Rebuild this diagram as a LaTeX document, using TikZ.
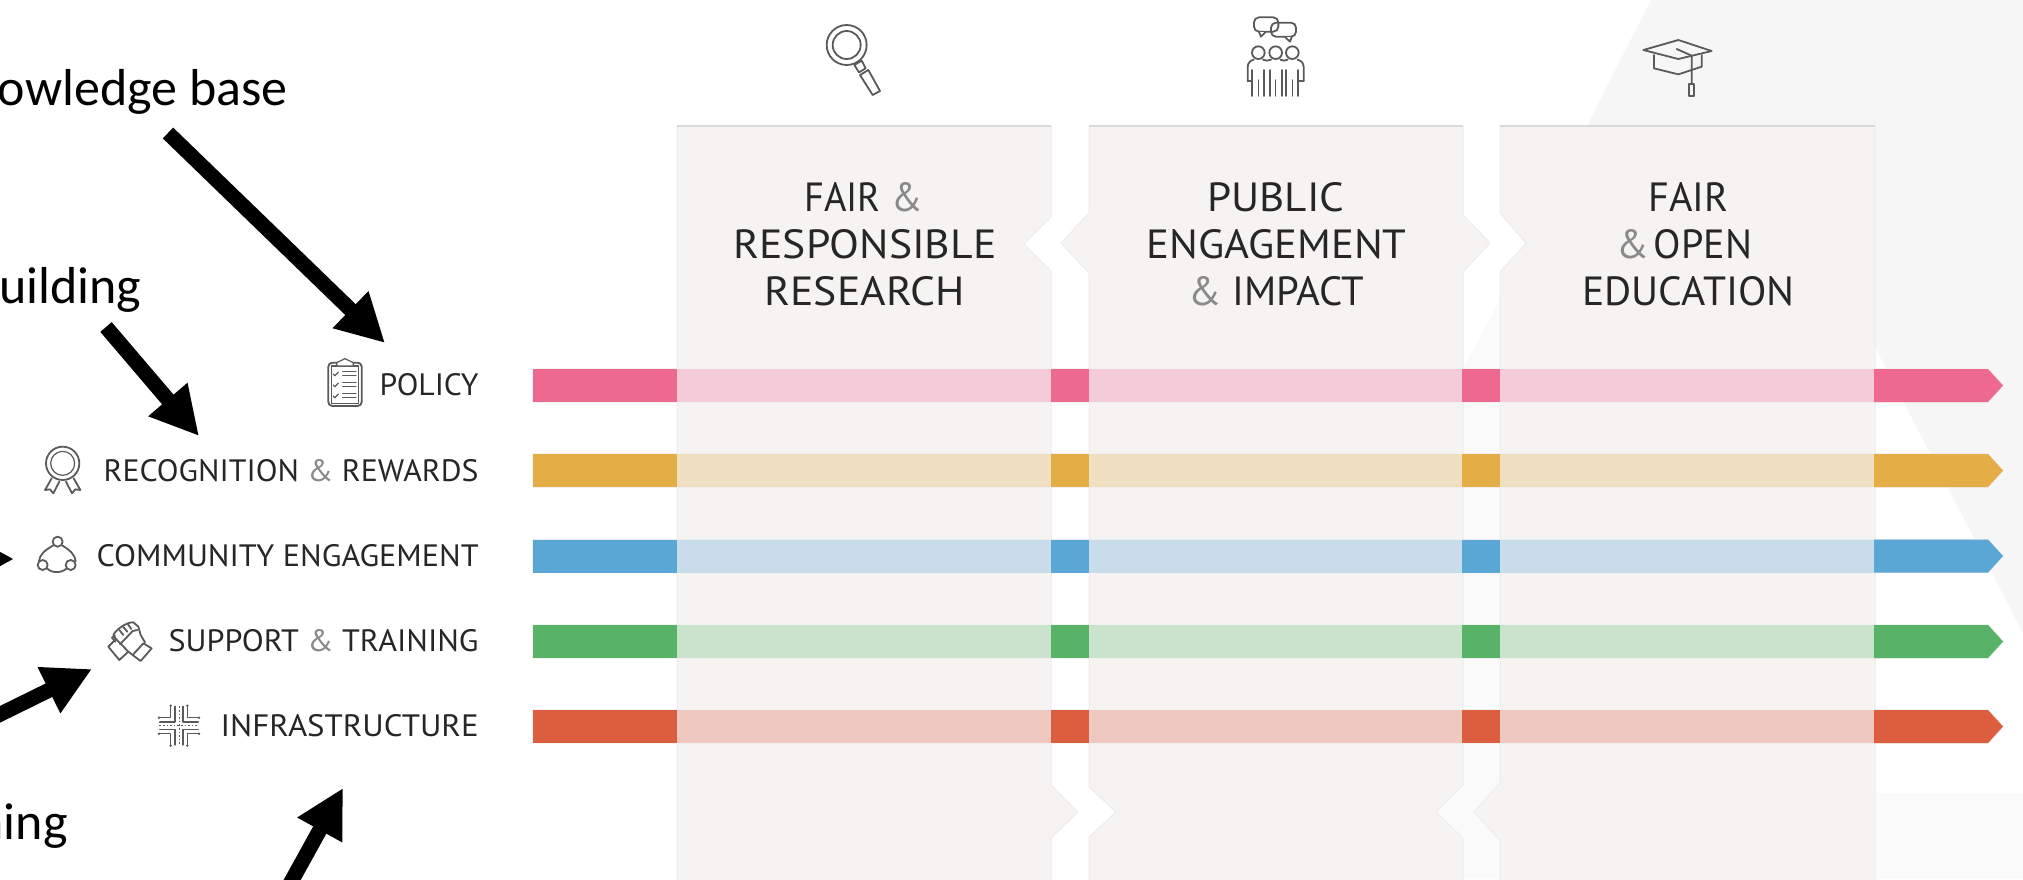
\documentclass[tikz,border=0pt]{standalone}
\usepackage{fontspec}
\usepackage{graphicx}
\setmainfont{Carlito}
\newfontfamily\din{PT Sans}
\usetikzlibrary{arrows.meta}
\newdimen\px \px=.5pt
\newcommand\fitt[3]{\resizebox{#1\px}{#2\px}{\din #3}}
\newcommand\amp{\textcolor{ampgrey}{\&}}
\definecolor{ampgrey}{HTML}{8A8A8A}
\definecolor{inkc}{HTML}{262626}
\definecolor{iconc}{HTML}{5A5A5A}
\definecolor{panelc}{HTML}{F5F4F3}
\definecolor{bgc}{HTML}{F6F6F6}
\definecolor{bgl}{HTML}{FAFAFA}
\definecolor{edgec}{HTML}{EDEDED}
\definecolor{topc}{HTML}{D9D9D9}
\definecolor{pinkD}{HTML}{EE6990}\definecolor{pinkL}{HTML}{F4CBD8}
\definecolor{orgD}{HTML}{E5AD45}\definecolor{orgL}{HTML}{F0DFC1}
\definecolor{bluD}{HTML}{5AA6D4}\definecolor{bluL}{HTML}{C8DDE9}
\definecolor{grnD}{HTML}{58B368}\definecolor{grnL}{HTML}{C9E3CD}
\definecolor{redD}{HTML}{DD5E3F}\definecolor{redL}{HTML}{EFC9C0}
\tikzset{
  panelbox/.style={fill=panelc,draw=edgec,line width=.5pt},
  toprule/.style={draw=topc,line width=.7pt},
  labeltxt/.style={anchor=base east,inner sep=0pt,text=inkc},
  headtxt/.style={anchor=base west,inner sep=0pt,text=inkc},
  annot/.style={anchor=base east,inner sep=0pt,text=black,font=\fontsize{26pt}{26pt}\selectfont},
  bigarrow/.style={line width=7.5pt,draw=black,-{Triangle[length=24pt,width=24pt]}},
  icon/.style={draw=iconc,line width=.9pt,line join=round,line cap=round},
  thinicon/.style={draw=iconc,line width=.6pt,line join=round,line cap=round},
  dotted icon/.style={draw=iconc,line width=.5pt,dash pattern=on .8pt off 1pt},
  dotfill/.style={fill=iconc,draw=none},
}
\begin{document}
\begin{tikzpicture}[x=.5pt,y=-.5pt]
\useasboundingbox (0,0) rectangle (2023,879);
\clip (0,0) rectangle (2023,879);
\fill[white] (0,0) rectangle (2023,879);
% background shapes
\fill[bgc] (1651,0) -- (2023,0) -- (2023,633) -- (1875,347) -- (1875,126) -- (1587,126) -- cycle;
\fill[bgl] (1875,793) rectangle (2023,879);
\fill[bgl] (1464,367) -- (1500,300) -- (1500,879) -- (1436,879) -- (1436,367) -- cycle;
% panels
\draw[panelbox] (677,126) -- (1051,126) -- (1051,217) -- (1024,244) -- (1051,271) -- (1051,785) -- (1078,812) -- (1051,838) -- (1051,885) -- (677,885) -- cycle;
\draw[panelbox] (1089,126) -- (1463,126) -- (1463,215) -- (1490,243) -- (1463,272) -- (1463,785) -- (1436,812) -- (1463,838) -- (1463,885) -- (1089,885) -- (1089,837) -- (1116,812) -- (1089,787) -- (1089,273) -- (1061,243) -- (1089,213) -- cycle;
\draw[panelbox] (1500,126) -- (1875,126) -- (1875,885) -- (1500,885) -- (1500,840) -- (1474,812) -- (1500,783) -- (1500,272) -- (1526,243) -- (1500,213) -- cycle;
\draw[toprule] (677,126) -- (1051,126);
\draw[toprule] (1089,126) -- (1463,126);
\draw[toprule] (1500,126) -- (1875,126);
% column headings
\node[headtxt] (h1a) at (804,211) {\fitt{118}{29}{FAIR \amp}};
\node[headtxt] (h1b) at (733,258) {\fitt{263}{29}{RESPONSIBLE}};
\node[headtxt] (h1c) at (764,305) {\fitt{200}{29}{RESEARCH}};
\node[headtxt] (h2a) at (1207,211) {\fitt{137}{29}{PUBLIC}};
\node[headtxt] (h2b) at (1146,258) {\fitt{260}{29}{ENGAGEMENT}};
\node[headtxt] (h2c) at (1188,305) {\fitt{176}{29}{\amp{} IMPACT}};
\node[headtxt] (h3a) at (1648,211) {\fitt{80}{29}{FAIR}};
\node[headtxt] (h3b) at (1616,258) {\fitt{136}{29}{\amp\hspace{.12em}OPEN}};
\node[headtxt] (h3c) at (1582,305) {\fitt{212}{29}{EDUCATION}};
% bars
\foreach \yy/\dk/\lt in {369/pinkD/pinkL,454/orgD/orgL,539.5/bluD/bluL,625/grnD/grnL,710/redD/redL}{
  \path[draw=edgec,line width=.6pt] (533,\yy) -- (1988,\yy) -- (2003,\yy+16.5) -- (1988,\yy+33) -- (533,\yy+33) -- cycle;
  \fill[\dk] (533,\yy) rectangle (677,\yy+33);
  \fill[\lt] (677,\yy) rectangle (1051,\yy+33);
  \fill[\dk] (1051,\yy) rectangle (1089,\yy+33);
  \fill[\lt] (1089,\yy) rectangle (1462,\yy+33);
  \fill[\dk] (1462,\yy) rectangle (1500,\yy+33);
  \fill[\lt] (1500,\yy) rectangle (1874,\yy+33);
  \fill[\dk] (1874,\yy) -- (1988,\yy) -- (2003,\yy+16.5) -- (1988,\yy+33) -- (1874,\yy+33) -- cycle;
}
% row labels
\node[labeltxt] (policy) at (479,395) {\fitt{99}{22}{POLICY}};
\node[labeltxt] (recog) at (479,481) {\fitt{375}{22}{RECOGNITION \amp{} REWARDS}};
\node[labeltxt] (commu) at (479,566) {\fitt{382}{22}{COMMUNITY ENGAGEMENT}};
\node[labeltxt] (suppo) at (479,651) {\fitt{310}{22}{SUPPORT \amp{} TRAINING}};
\node[labeltxt] (infra) at (479,736) {\fitt{258}{22}{INFRASTRUCTURE}};
% annotations
\node[annot] (know) at (288,105) {owledge base};
\node[annot] (buil) at (142,303) {uilding};
\node[annot] (trai) at (68,839) {ning};
% arrows
\coordinate (a1s) at (168,133); \coordinate (a1e) at (385,343);
\coordinate (a2s) at (106,327); \coordinate (a2e) at (199,436);
\coordinate (a3s) at (-100,559); \coordinate (a3e) at (14,559);
\coordinate (a4s) at (-40,734); \coordinate (a4e) at (92,669);
\coordinate (a5s) at (270,920); \coordinate (a5e) at (343,788);
\draw[bigarrow] (a1s) -- (a1e);
\draw[bigarrow] (a2s) -- (a2e);
\draw[bigarrow] (a3s) -- (a3e);
\draw[bigarrow] (a4s) -- (a4e);
\draw[bigarrow] (a5s) -- (a5e);
% clipboard
\begin{scope}[scale=1/3]
  \draw[icon,rounded corners=2pt] (985,1088) rectangle (1085,1218);
  \draw[thinicon] (995,1098) rectangle (1076,1210);
  \draw[thinicon,fill=white] (1010,1098) -- (1010,1088) -- (1035,1076) -- (1060,1088) -- (1060,1098) -- cycle;
  \foreach \q in {1122,1155,1188}{
    \draw[thinicon] (1000,\q) -- (1005,\q+5) -- (1015,\q-6);
    \draw[thinicon] (1028,\q-8) -- (1068,\q-8);
    \draw[thinicon] (1028,\q+5) -- (1068,\q+5);
  }
\end{scope}
% ribbon
\begin{scope}[shift={(0,440)},scale=1/3]
  \draw[icon] (188,70) circle (50);
  \draw[thinicon] (188,70) circle (36);
  \draw[icon] (155,115) -- (135,150) -- (150,148) -- (160,160) -- (178,125);
  \draw[icon] (221,115) -- (241,150) -- (226,148) -- (216,160) -- (198,125);
\end{scope}
% community
\begin{scope}[shift={(0,440)},scale=1/3]
  \draw[icon] (173,305) circle (15);
  \draw[icon] (128,375) circle (15);
  \draw[icon] (212,375) circle (15);
  \draw[icon] (160,316) .. controls (135,330) and (118,345) .. (117,364);
  \draw[icon] (186,316) .. controls (210,330) and (226,345) .. (227,364);
  \draw[icon] (141,385) .. controls (155,400) and (185,400) .. (200,385);
\end{scope}
% handshake
\begin{scope}[shift={(100,615)},scale=1/3]
  \draw[icon] (25,95) -- (48,72) -- (85,110) -- (58,135) -- cycle;
  \draw[icon] (98,120) -- (130,85) -- (155,100) -- (122,138) -- cycle;
  \draw[icon] (48,72) -- (40,60) .. controls (50,40) and (85,20) .. (100,22) -- (115,35) -- (122,60) -- (135,82);
  \draw[icon] (45,62) -- (36,68) -- (46,80);
  \draw[icon] (58,45) -- (70,60); \draw[icon] (70,36) -- (82,50); \draw[icon] (84,28) -- (94,42);
  \draw[icon] (60,88) -- (98,48) -- (112,45);
  \draw[icon] (85,110) -- (98,120);
\end{scope}
% infrastructure
\begin{scope}[shift={(100,615)},scale=1/3]
  \foreach \sx/\sy in {1/1,-1/1,1/-1,-1/-1}{
    \draw[thinicon] (237+\sx*58,332+\sy*24) -- (237+\sx*25,332+\sy*24) -- (237+\sx*25,332+\sy*58);
    \draw[thinicon] (237+\sx*58,332+\sy*11) -- (237+\sx*12,332+\sy*11) -- (237+\sx*12,332+\sy*58);
    \fill[dotfill] (237+\sx*60,332+\sy*24) circle (4);
    \fill[dotfill] (237+\sx*25,332+\sy*60) circle (4);
  }
  \draw[dotted icon] (178,332) -- (296,332);
  \draw[dotted icon] (237,274) -- (237,390);
\end{scope}
% magnifier
\begin{scope}[shift={(810,15)},scale=1/3]
  \draw[icon] (110,90) circle (60);
  \draw[icon] (110,90) circle (42);
  \draw[icon] (133,150) -- (155,137) -- (167,160) -- (147,172) -- cycle;
  \draw[icon] (150,180) -- (175,165) -- (210,228) -- (188,240) -- cycle;
\end{scope}
% people
\begin{scope}[shift={(1235,10)},scale=1/3]
  \draw[icon,rounded corners=2.5pt] (57,22) rectangle (130,65);
  \draw[icon,fill=white] (72,66) -- (78,80) -- (92,66);
  \draw[icon,rounded corners=2.5pt] (108,38) rectangle (183,80);
  \draw[icon,fill=white] (150,81) -- (165,95) -- (170,81);
  \foreach \cx in {70,122,172}{
    \draw[icon] (\cx,128) circle (19);
    \draw[icon] (\cx-18,258) -- (\cx-18,180);
    \draw[icon] (\cx+18,258) -- (\cx+18,180);
    \draw[thinicon] (\cx,258) -- (\cx,210);
  }
  \draw[icon] (38,212) -- (38,172) .. controls (38,158) and (46,152) .. (56,149);
  \draw[icon] (206,212) -- (206,172) .. controls (206,158) and (198,152) .. (188,149);
  \draw[icon] (38,212) -- (50,212); \draw[icon] (206,212) -- (192,212);
  \draw[icon] (84,149) .. controls (92,153) and (100,153) .. (108,149);
  \draw[icon] (136,149) .. controls (144,153) and (150,153) .. (158,149);
\end{scope}
% cap
\begin{scope}[shift={(1630,25)},scale=1/3]
  \draw[icon] (40,75) -- (145,45) -- (245,78) -- (145,102) -- cycle;
  \draw[icon] (72,90) -- (72,130) -- (145,148) -- (215,125) -- (215,90);
  \draw[icon] (140,72) -- (185,92) -- (185,175);
  \draw[icon] (177,178) rectangle (193,212);
\end{scope}
\end{tikzpicture}
\end{document}
